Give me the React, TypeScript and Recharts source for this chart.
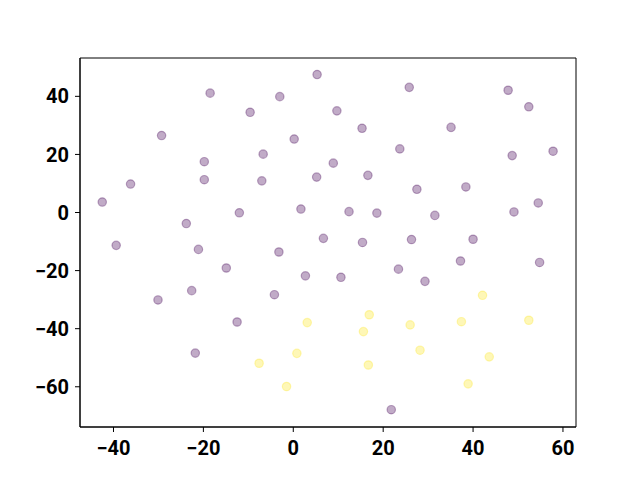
import { ScatterChart, Scatter, XAxis, YAxis, ReferenceArea } from "recharts";

// class 0 (dark purple) and class 1 (yellow) embedding coordinates
const purpleX = [
  5.3, -18.5, -3.0, -9.6, 25.8, 9.7, 15.3, 35.1, 47.8, 52.4, 23.7, 48.7, 57.8, -29.3,
  0.2, -6.7, 8.9, -19.8, -36.2, -19.8, -7.0, 5.2, 16.6, 27.5, 38.4, -42.5, 1.7, 12.4,
  18.6, 31.5, 49.1, 54.5, -12.0, -23.8, -39.4, -21.1, -3.2, 6.7, 15.4, 26.3, 40.0,
  -14.9, 2.7, 10.6, 23.4, 29.3, 37.2, 54.8, -30.1, -22.6, -4.2, -12.5, -21.8, 21.8,
];
const purpleY = [
  47.5, 41.1, 39.9, 34.5, 43.1, 35.0, 29.0, 29.3, 42.1, 36.4, 21.9, 19.6, 21.1, 26.5,
  25.3, 20.1, 17.0, 17.5, 9.8, 11.3, 10.9, 12.2, 12.8, 8.0, 8.8, 3.6, 1.2, 0.3,
  -0.2, -1.0, 0.2, 3.3, -0.1, -3.8, -11.3, -12.7, -13.6, -8.9, -10.3, -9.3, -9.2,
  -19.1, -21.8, -22.3, -19.5, -23.7, -16.7, -17.2, -30.1, -26.9, -28.3, -37.7, -48.4, -67.9,
];
const yellowX = [3.1, 16.9, 15.6, 26.0, 42.1, 37.4, 52.4, -7.6, 0.8, 16.7, 28.2, 43.6, 38.9, -1.5];
const yellowY = [-37.9, -35.2, -41.0, -38.7, -28.5, -37.6, -37.1, -51.9, -48.5, -52.5, -47.4, -49.7, -59.0, -59.9];

const xTicks = [-40, -20, 0, 20, 40, 60];
const yTicks = [-60, -40, -20, 0, 20, 40];

const X_DOMAIN: [number, number] = [-47.45, 62.9];
const Y_DOMAIN: [number, number] = [-73.85, 53.2];

const purple = purpleX.map((x, i) => ({ x, y: purpleY[i] }));
const yellow = yellowX.map((x, i) => ({ x, y: yellowY[i] }));

const fmt = (v: number) => (v < 0 ? `\u2212${-v}` : `${v}`);

const tickStyle = { fill: "#000", fontSize: 20, fontWeight: 700, fontFamily: "Roboto" };

const dot = (color: string) => (props: any) => (
  <circle
    cx={props.cx}
    cy={props.cy}
    r={4.2}
    fill={color}
    fillOpacity={0.33}
    stroke={color}
    strokeOpacity={0.33}
    strokeWidth={1.2}
  />
);

export default function App() {
  return (
    <div style={{ position: "absolute", left: 0, top: 0, background: "#fff" }}>
      <ScatterChart width={640} height={480} margin={{ top: 58, right: 64, bottom: 0, left: 0 }}>
        <ReferenceArea
          x1={X_DOMAIN[0]}
          x2={X_DOMAIN[1]}
          y1={Y_DOMAIN[0]}
          y2={Y_DOMAIN[1]}
          fill="none"
          stroke="#000"
          strokeWidth={1}
          fillOpacity={0}
          strokeOpacity={1}
        />
        <XAxis
          type="number"
          dataKey="x"
          domain={X_DOMAIN}
          ticks={xTicks}
          allowDataOverflow
          height={53}
          tickSize={5}
          tickMargin={9}
          tickFormatter={fmt}
          tick={tickStyle}
          axisLine={{ stroke: "#000" }}
          tickLine={{ stroke: "#000" }}
        />
        <YAxis
          type="number"
          dataKey="y"
          domain={Y_DOMAIN}
          ticks={yTicks}
          allowDataOverflow
          width={80}
          tickSize={5}
          tickMargin={6}
          tickFormatter={fmt}
          tick={tickStyle}
          axisLine={{ stroke: "#000" }}
          tickLine={{ stroke: "#000" }}
        />
        <Scatter data={purple} shape={dot("#440154")} isAnimationActive={false} />
        <Scatter data={yellow} shape={dot("#fde725")} isAnimationActive={false} />
      </ScatterChart>
    </div>
  );
}
